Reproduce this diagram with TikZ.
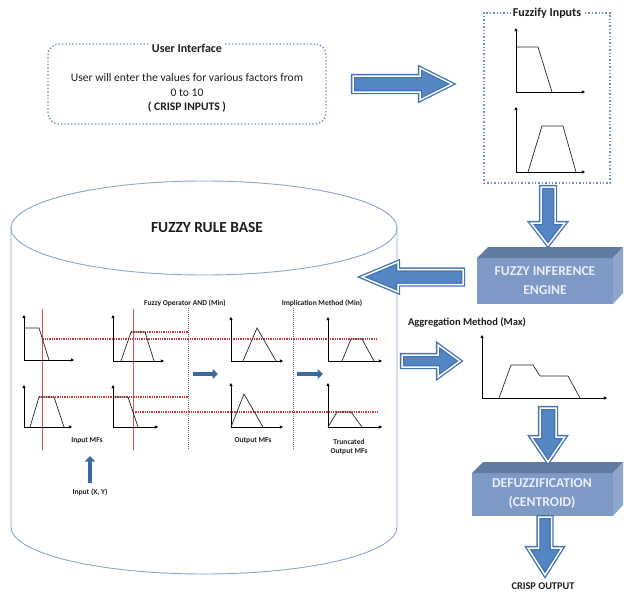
\documentclass[tikz,border=0pt]{standalone}
\usepackage{fontspec}
\setmainfont{Carlito}
\usetikzlibrary{arrows.meta}
\definecolor{dotblue}{RGB}{112,146,196}
\definecolor{arrfill}{RGB}{84,134,196}
\definecolor{arrline}{RGB}{68,116,180}
\definecolor{cylline}{RGB}{140,165,200}
\definecolor{frontc}{RGB}{124,154,197}
\definecolor{topc}{RGB}{96,122,160}
\definecolor{sidec}{RGB}{140,166,206}
\definecolor{redl}{RGB}{222,80,80}
\definecolor{redd}{RGB}{215,55,55}
\definecolor{smallarr}{RGB}{62,104,160}
\definecolor{txt}{RGB}{30,30,30}
\newcommand{\fatarrow}[7]{%
  \begin{scope}[shift={(#1,#2)},rotate=#3]
    \path[fatfill,fatouter] (0,-#6) -- ({#4-#5},-#6) -- ({#4-#5},-#7) -- (#4,0) -- ({#4-#5},#7) -- ({#4-#5},#6) -- (0,#6) -- cycle;
    \draw[fatinner] (0,-#6) -- ({#4-#5},-#6) -- ({#4-#5},-#7) -- (#4,0) -- ({#4-#5},#7) -- ({#4-#5},#6) -- (0,#6) -- cycle;
  \end{scope}}
\begin{document}
\begin{tikzpicture}[x=1pt,y=-1pt,
  fatfill/.style={fill=arrfill},
  fatouter/.style={draw=arrline,line width=4.2pt,line join=miter},
  fatinner/.style={draw=white,line width=1.5pt,line join=miter},
  dotbox/.style={draw=dotblue,dotted,line width=1.4pt},
  boxtitle/.style={fill=white,inner sep=2pt,font=\bfseries\fontsize{12}{14}\selectfont,text=txt},
  axis/.style={line width=0.7pt,arrows={Triangle[length=3.2pt,width=3.2pt]-Triangle[length=3.2pt,width=3.2pt]}},
  mf/.style={line width=0.7pt,draw=black!85},
  redv/.style={draw=redl,line width=0.7pt},
  reddot/.style={draw=redd,line width=1.1pt,dash pattern=on 1.3pt off 1pt},
  divider/.style={draw=black!55,line width=0.8pt,dash pattern=on 0.9pt off 1.1pt},
  small/.style={font=\bfseries\fontsize{7.5}{9}\selectfont,text=txt,inner sep=1pt},
  smallarrow/.style={draw=smallarr,line width=4pt,arrows={-Triangle[length=5.5pt,width=10pt]}},
  bigtxt/.style={font=\bfseries\fontsize{13.6}{19}\selectfont,text=white!93!blue,align=center}]
\useasboundingbox (0,0) rectangle (624,592);

% ---------- User interface ----------
\node[dotbox,rounded corners=11pt,minimum width=278pt,minimum height=80pt] (ui) at (187,84) {};
\node[boxtitle] (uit) at (187,48) {User Interface};
\node[align=center,text=txt,font=\fontsize{11.6}{14.5}\selectfont] (uitext) at (187,93)
  {User will enter the values for various factors from\\0 to 10\\\textbf{( CRISP INPUTS )}};

% ---------- Fuzzify inputs ----------
\node[dotbox,minimum width=126pt,minimum height=170pt] (fz) at (547,98) {};
\node[boxtitle] (fzt) at (547,13) {Fuzzify Inputs};
\draw[axis] (516,28) -- (516,92) -- (585,92);
\draw[mf] (516,47) -- (538,47) -- (552,92);
\draw[axis] (516,107) -- (516,172) -- (585,172);
\draw[mf] (528,172) -- (542,126) -- (563,126) -- (576,172);

% ---------- Cylinder ----------
\draw[cylline,line width=0.9pt] (204,228) ellipse [x radius=193, y radius=47];
\draw[cylline,line width=0.9pt] (11,228) -- (11,527)
   .. controls (11,553) and (97.4,574) .. (204,574)
   .. controls (310.6,574) and (397,553) .. (397,527) -- (397,228);
\node[font=\bfseries\fontsize{15.4}{17}\selectfont,text=txt] (frb) at (207,228) {FUZZY RULE BASE};

% inside plots
\draw[redv] (42.5,309) -- (42.5,450);
\draw[redv] (133,309) -- (133,450);
\draw[reddot] (131,332) -- (188,332);
\draw[reddot] (42.5,339) -- (377,339);
\draw[reddot] (39,397) -- (188,397);
\draw[reddot] (133,412) -- (377,412);
\draw[divider] (188,308) -- (188,450);
\draw[divider] (293,308) -- (293,450);

\draw[axis] (24,315) -- (24,360) -- (74,360);
\draw[mf] (24,328) -- (39,328) -- (49,360);
\draw[axis] (113,315) -- (113,361) -- (164,361);
\draw[mf] (121,361) -- (131,332) -- (145,332) -- (154,361);
\draw[axis] (24,385) -- (24,427) -- (72,427);
\draw[mf] (30,427) -- (39,397) -- (54,397) -- (64,427);
\draw[axis] (113,385) -- (113,427) -- (158,427);
\draw[mf] (113,397) -- (128,397) -- (138,427);

\draw[axis] (231,317) -- (231,361) -- (283,361);
\draw[mf] (243,361) -- (257,328) -- (276,361);
\draw[axis] (231,383) -- (231,427) -- (283,427);
\draw[mf] (231,427) -- (244,394) -- (263,427);
\draw[axis] (328,317) -- (328,361) -- (382,361);
\draw[mf] (342,361) -- (351,339) -- (362,339) -- (374,361);
\draw[axis] (328,383) -- (328,427) -- (382,427);
\draw[mf] (328,427) -- (337,412) -- (351,412) -- (362,427);

\node[small] (fop) at (185,303) {Fuzzy Operator AND (Min)};
\node[small] (imp) at (322,303) {Implication Method (Min)};
\node[small] (inmf) at (87,441) {Input MFs};
\node[small] (outmf) at (253,441) {Output MFs};
\node[small,align=center] (trmf) at (349,447) {Truncated\\Output MFs};
\node[small] (inxy) at (90,492) {Input (X, Y)};

\coordinate (s1a) at (193,374); \coordinate (s1b) at (218,374);
\coordinate (s2a) at (297,374); \coordinate (s2b) at (323,374);
\coordinate (s3a) at (90,483);  \coordinate (s3b) at (90,456);
\draw[smallarrow] (s1a) -- (s1b);
\draw[smallarrow] (s2a) -- (s2b);
\draw[smallarrow] (s3a) -- (s3b);

% ---------- Fuzzy inference engine ----------
\fill[frontc] (477,258) rectangle (613,304);
\fill[topc] (477,258) -- (488,247) -- (623,247) -- (613,258) -- cycle;
\fill[sidec] (613,258) -- (623,247) -- (623,293) -- (613,304) -- cycle;
\node[bigtxt] (fie) at (545,281) {FUZZY INFERENCE\\ENGINE};

% ---------- Aggregation ----------
\node[font=\bfseries\fontsize{10.5}{12}\selectfont,text=txt] (agg) at (467,322) {Aggregation Method (Max)};
\draw[axis] (482,335) -- (482,398) -- (607,398);
\draw[mf] (499,398) -- (511,365) -- (533,365) -- (540,376) -- (568,376) -- (580,398);

% ---------- Defuzzification ----------
\fill[frontc] (472,473) rectangle (613,516);
\fill[topc] (472,473) -- (483,462) -- (623,462) -- (613,473) -- cycle;
\fill[sidec] (613,473) -- (623,462) -- (623,505) -- (613,516) -- cycle;
\node[bigtxt] (dfz) at (542,494) {DEFUZZIFICATION\\(CENTROID)};
\node[font=\bfseries\fontsize{10.3}{12}\selectfont,text=txt] (co) at (543,586) {CRISP OUTPUT};

% ---------- Block arrows ----------
\fatarrow{353}{84}{0}{99}{32}{8}{16}
\fatarrow{548}{187}{-90}{58}{22}{7}{17}
\fatarrow{463}{277}{180}{101}{36}{7.5}{15}
\fatarrow{402}{361}{0}{58}{22}{6}{16}
\fatarrow{548}{408}{-90}{54}{25}{8}{17}
\fatarrow{545}{517}{-90}{58}{27}{6.5}{17}
\end{tikzpicture}
\end{document}
